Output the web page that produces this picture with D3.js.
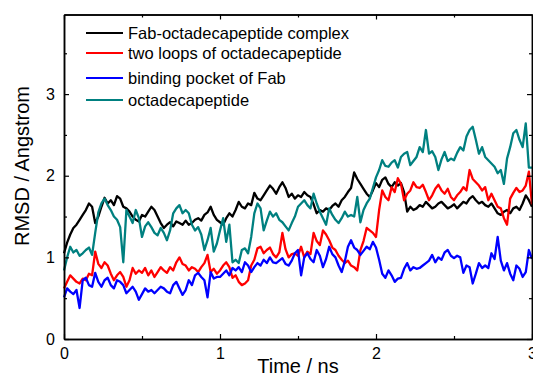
<!DOCTYPE html>
<html>
<head>
<meta charset="utf-8">
<script src="https://cdn.jsdelivr.net/npm/d3@7"></script>
<style>
  body { margin: 0; background: #fff; }
  svg { display: block; font-family: "Liberation Sans", Arial, sans-serif; }
</style>
</head>
<body>
<svg id="chart" width="533" height="378"></svg>
<script>
// legend labels, in the order they are drawn
var seriesNames = ["Fab-octadecapeptide complex", "two loops of octadecapeptide", "binding pocket of Fab", "octadecapeptide"];

// sampled every 0.02 ns from 0 to 3 ns (151 points each), RMSD in Angstrom
var sampleStep = 0.02;

var complexRmsd = [
  1.05, 1.18, 1.28, 1.36, 1.40, 1.46, 1.52, 1.58, 1.66, 1.62,
  1.42, 1.50, 1.62, 1.73, 1.66, 1.70, 1.64, 1.75, 1.72, 1.62,
  1.60, 1.56, 1.50, 1.46, 1.44, 1.52, 1.50, 1.56, 1.62, 1.58,
  1.50, 1.42, 1.36, 1.40, 1.43, 1.38, 1.44, 1.42, 1.40, 1.45,
  1.40, 1.42, 1.46, 1.48, 1.45, 1.52, 1.55, 1.62, 1.52, 1.46,
  1.43, 1.40, 1.48, 1.54, 1.50, 1.58, 1.68, 1.62, 1.60, 1.66,
  1.64, 1.79, 1.72, 1.70, 1.76, 1.82, 1.88, 1.84, 1.78, 1.86,
  1.92, 1.85, 1.74, 1.78, 1.72, 1.76, 1.74, 1.80, 1.76, 1.74,
  1.65, 1.54, 1.58, 1.56, 1.60, 1.58, 1.63, 1.66, 1.62, 1.70,
  1.74, 1.80, 1.85, 2.04, 1.96, 1.90, 1.84, 1.78, 1.74, 1.82,
  1.91, 1.86, 1.95, 1.98, 1.90, 1.86, 1.92, 1.88, 1.91, 1.80,
  1.56, 1.62, 1.58, 1.60, 1.64, 1.62, 1.68, 1.64, 1.60, 1.62,
  1.66, 1.68, 1.64, 1.60, 1.62, 1.65, 1.60, 1.64, 1.68, 1.66,
  1.72, 1.75, 1.70, 1.66, 1.68, 1.64, 1.62, 1.66, 1.60, 1.54,
  1.52, 1.56, 1.58, 1.54, 1.60, 1.62, 1.58, 1.66, 1.76, 1.70, 1.62
];

var loopsRmsd = [
  0.62, 0.70, 0.78, 0.74, 0.70, 0.68, 0.74, 0.72, 0.80, 0.78,
  1.07, 0.92, 0.87, 0.94, 0.90, 0.80, 0.72, 0.78, 0.82, 0.76,
  0.64, 0.72, 0.87, 0.80, 0.84, 0.81, 0.87, 0.78, 0.84, 0.76,
  0.82, 0.88, 0.84, 0.81, 0.88, 0.84, 0.94, 1.00, 0.92, 0.90,
  0.84, 0.88, 0.86, 0.82, 0.88, 0.93, 1.03, 0.82, 0.86, 0.80,
  0.84, 0.90, 0.94, 0.88, 0.75, 0.78, 0.70, 0.66, 0.68, 0.72,
  0.90, 0.97, 1.11, 1.13, 1.05, 1.09, 1.12, 1.04, 1.00, 1.06,
  1.30, 1.10, 1.00, 1.04, 1.05, 1.02, 1.13, 1.00, 1.07, 1.04,
  1.30, 1.20, 1.15, 1.33, 1.28, 1.21, 1.12, 1.09, 1.02, 0.97,
  0.93, 0.96, 0.90, 0.88, 0.84, 1.09, 1.20, 1.36, 1.33, 1.30,
  1.25, 1.58, 1.82, 1.74, 1.70, 1.86, 1.80, 1.97, 1.90, 1.70,
  1.78, 1.82, 1.92, 1.86, 1.85, 1.89, 1.80, 1.70, 1.76, 1.84,
  1.89, 1.82, 1.78, 1.84, 1.74, 1.70, 1.76, 1.80, 1.86, 1.82,
  2.07, 1.96, 1.92, 1.88, 1.82, 1.86, 1.70, 1.78, 1.70, 1.62,
  1.60, 1.48, 1.40, 1.72, 1.79, 1.85, 1.80, 1.82, 1.88, 2.05, 1.65
];

var pocketRmsd = [
  0.51, 0.62, 0.58, 0.55, 0.60, 0.38, 0.72, 0.75, 0.66, 0.64,
  0.81, 0.70, 0.64, 0.72, 0.75, 0.66, 0.62, 0.72, 0.70, 0.66,
  0.56, 0.60, 0.64, 0.58, 0.48, 0.55, 0.62, 0.58, 0.60, 0.56,
  0.60, 0.64, 0.62, 0.58, 0.56, 0.66, 0.70, 0.62, 0.54, 0.60,
  0.72, 0.66, 0.78, 0.81, 0.76, 0.72, 0.51, 0.82, 0.74, 0.76,
  0.76, 0.80, 0.84, 0.78, 0.87, 0.84, 0.88, 0.82, 0.94, 0.90,
  0.82, 0.88, 0.93, 0.90, 0.97, 0.93, 1.00, 0.94, 0.93, 0.96,
  0.99, 0.92, 0.90, 0.96, 1.05, 1.09, 0.78, 1.00, 1.05, 0.98,
  0.94, 1.09, 1.02, 0.88, 0.98, 1.13, 1.04, 1.00, 0.90, 0.82,
  0.95, 1.13, 1.21, 1.12, 1.09, 1.03, 1.08, 1.13, 1.10, 1.19,
  1.12, 0.97, 0.80, 0.75, 0.84, 0.78, 0.70, 0.74, 0.75, 0.86,
  0.93, 0.84, 0.88, 0.86, 0.87, 0.90, 0.93, 0.96, 1.03, 0.94,
  1.00, 0.97, 1.06, 1.09, 1.02, 0.99, 1.02, 1.00, 0.81, 0.90,
  0.88, 0.68, 0.80, 0.93, 0.87, 0.90, 0.87, 1.05, 0.98, 1.25,
  0.96, 0.84, 0.93, 0.80, 0.72, 0.90, 0.86, 0.76, 0.82, 1.09, 0.98
];

var peptideRmsd = [
  0.84, 1.00, 1.13, 1.06, 1.09, 1.02, 1.05, 1.09, 1.12, 1.03,
  1.30, 1.55, 1.66, 1.72, 1.64, 1.58, 1.50, 1.46, 1.37, 0.94,
  1.58, 1.50, 1.42, 1.58, 1.48, 1.25, 1.38, 1.43, 1.37, 1.30,
  1.27, 1.36, 1.30, 1.21, 1.33, 1.54, 1.60, 1.64, 1.54, 1.58,
  1.54, 1.40, 1.33, 1.37, 1.28, 1.09, 1.21, 1.36, 1.07, 1.17,
  1.33, 1.48, 1.19, 1.40, 0.94, 0.97, 0.93, 1.09, 1.11, 1.05,
  1.25, 1.54, 1.66, 1.60, 1.33, 1.45, 1.56, 1.50, 1.54, 1.46,
  1.43, 1.38, 1.33, 1.42, 1.50, 1.62, 1.66, 1.70, 1.64, 1.60,
  1.78, 1.66, 1.56, 1.48, 1.40, 1.60, 1.52, 1.46, 1.42, 1.48,
  1.56, 1.50, 1.52, 1.50, 1.74, 1.43, 1.58, 1.66, 1.72, 1.85,
  1.98, 2.07, 2.19, 2.12, 2.11, 2.16, 2.19, 2.10, 2.23, 2.27,
  2.29, 2.13, 2.18, 2.23, 2.35, 2.29, 2.56, 2.27, 2.30, 2.23,
  2.07, 2.20, 2.29, 2.18, 2.21, 2.19, 2.28, 2.35, 2.31, 2.48,
  2.56, 2.60, 2.44, 2.27, 2.35, 2.23, 2.19, 2.15, 2.11, 2.03,
  2.07, 1.90, 2.21, 2.35, 2.52, 2.56, 2.44, 2.35, 2.64, 2.10, 2.10
];

var xTickValues = [0, 1, 2, 3];
var xMinorTicks = [0.5, 1.5, 2.5];
var yTickValues = [0, 1, 2, 3];
var yMinorTicks = [0.5, 1.5, 2.5, 3.5];

var seriesList = [complexRmsd, loopsRmsd, pocketRmsd, peptideRmsd];
var seriesColors = ["#000000", "#ff0000", "#0000ff", "#008080"];

var svg = d3.select("#chart");
var margin = {top: 14.5, right: 1, bottom: 39, left: 64};
var width = +svg.attr("width") - margin.left - margin.right,
    height = +svg.attr("height") - margin.top - margin.bottom;

var x = d3.scaleLinear().domain([0, 3]).range([0, width]);
var y = d3.scaleLinear().domain([0, 3.975]).range([height, 0]);

var g = svg.append("g")
    .attr("transform", "translate(" + margin.left + "," + margin.top + ")");

// data lines
var line = d3.line()
    .x(function(d, i) { return x(i * sampleStep); })
    .y(function(d) { return y(d); });

g.selectAll(".series")
  .data(seriesList)
  .enter().append("path")
    .attr("class", "series")
    .attr("fill", "none")
    .attr("stroke", function(d, i) { return seriesColors[i]; })
    .attr("stroke-width", 2.3)
    .attr("stroke-linejoin", "round")
    .attr("d", line);

// frame with inward ticks on all four sides
function styleAxis(sel) {
  sel.selectAll(".domain").attr("stroke-width", 1.5);
  sel.selectAll(".tick line").attr("stroke-width", 1.2);
  sel.selectAll("text").attr("font-size", "16px").attr("fill", "#000");
}

g.append("g")
    .attr("transform", "translate(0," + height + ")")
    .call(d3.axisBottom(x).tickValues(xTickValues).tickSize(-5).tickSizeOuter(0).tickPadding(9).tickFormat(d3.format("d")))
    .call(styleAxis);
g.append("g")
    .attr("transform", "translate(0," + height + ")")
    .call(d3.axisBottom(x).tickValues(xMinorTicks).tickSize(-3).tickSizeOuter(0).tickFormat(""))
    .call(styleAxis);

g.append("g")
    .call(d3.axisTop(x).tickValues(xTickValues).tickSize(-5).tickSizeOuter(0).tickFormat(""))
    .call(styleAxis);
g.append("g")
    .call(d3.axisTop(x).tickValues(xMinorTicks).tickSize(-3).tickSizeOuter(0).tickFormat(""))
    .call(styleAxis);

g.append("g")
    .call(d3.axisLeft(y).tickValues(yTickValues).tickSize(-5).tickSizeOuter(0).tickPadding(9).tickFormat(d3.format("d")))
    .call(styleAxis);
g.append("g")
    .call(d3.axisLeft(y).tickValues(yMinorTicks).tickSize(-3).tickSizeOuter(0).tickFormat(""))
    .call(styleAxis);

g.append("g")
    .attr("transform", "translate(" + width + ",0)")
    .call(d3.axisRight(y).tickValues(yTickValues).tickSize(-5).tickSizeOuter(0).tickFormat(""))
    .call(styleAxis);
g.append("g")
    .attr("transform", "translate(" + width + ",0)")
    .call(d3.axisRight(y).tickValues(yMinorTicks).tickSize(-3).tickSizeOuter(0).tickFormat(""))
    .call(styleAxis);

// axis titles
svg.append("text")
    .attr("x", margin.left + width / 2)
    .attr("y", 373)
    .attr("text-anchor", "middle")
    .attr("font-size", "20px")
    .text("Time / ns");

svg.append("text")
    .attr("transform", "translate(29,166) rotate(-90)")
    .attr("text-anchor", "middle")
    .attr("font-size", "20px")
    .text("RMSD / Angstrom");

// legend (rows are not evenly spaced in the original)
var legendY = [33, 53, 78, 100];
var legend = svg.append("g");
seriesNames.forEach(function(name, i) {
  legend.append("line")
      .attr("x1", 86).attr("x2", 123)
      .attr("y1", legendY[i]).attr("y2", legendY[i])
      .attr("stroke", seriesColors[i])
      .attr("stroke-width", 2);
  legend.append("text")
      .attr("x", 128)
      .attr("y", legendY[i])
      .attr("dy", "0.36em")
      .attr("font-size", "16.5px")
      .text(name);
});
</script>
</body>
</html>
